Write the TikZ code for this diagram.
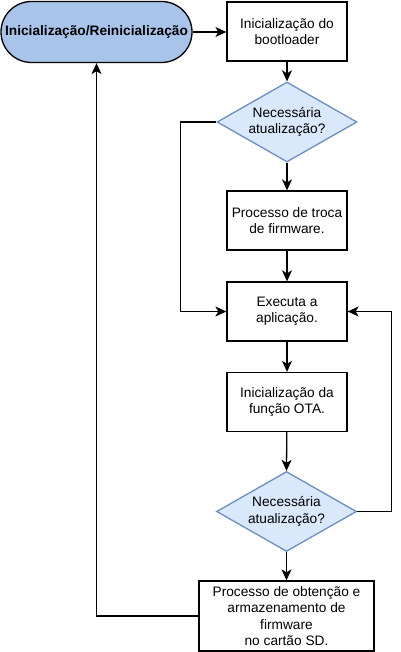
\documentclass[tikz,border=0pt]{standalone}
\usepackage{fontspec}
\setmainfont{Liberation Sans}
\usetikzlibrary{shapes.geometric,arrows.meta}
\definecolor{termfill}{HTML}{A9C4EB}
\definecolor{decfill}{HTML}{DAE8FC}
\definecolor{decdraw}{HTML}{6C8EBF}
\begin{document}
\begin{tikzpicture}[x=1pt,y=-1pt,
  every node/.style={font=\fontsize{13.7}{16.4}\selectfont, align=center, inner sep=0pt},
  proc/.style={draw=black, fill=white, line width=1.3pt, minimum width=120pt, minimum height=59pt},
  term/.style={draw=black, fill=termfill, line width=1.3pt, minimum width=191pt, minimum height=61pt, rounded corners=30.5pt, font=\fontsize{13.7}{16.4}\selectfont\bfseries},
  dec/.style={diamond, aspect=1.75, draw=decdraw, fill=decfill, line width=1.3pt, minimum width=140pt, minimum height=80pt},
  arr/.style={draw=black, line width=1.3pt, -{Stealth[length=11pt,width=10pt,inset=3pt]}}]
\useasboundingbox (0,0) rectangle (400,652);
\node[term] (t) at (96.5,32) {Inicialização/Reinicialização};
\node[proc] (b1) at (287,31.5) {Inicialização do\\bootloader};
\node[dec] (d1) at (287,122) {Necessária\\atualização?};
\node[proc] (b2) at (287,220.5) {Processo de troca\\de firmware.};
\node[proc] (b3) at (287,311.5) {Executa a\\aplicação.};
\node[proc] (b4) at (287,402) {Inicialização da\\função OTA.};
\node[dec] (d2) at (286.5,511.5) {Necessária\\atualização?};
\node[proc, minimum width=175pt, minimum height=70pt] (b5) at (286.5,616) {Processo de obtenção e\\armazenamento de\\firmware\\no cartão SD.};
\draw[arr] (t.east) -- (t.east -| b1.west);
\draw[arr] (b1) -- (d1);
\draw[arr] (d1) -- (b2);
\draw[arr] (b2) -- (b3);
\draw[arr] (b3) -- (b4);
\draw[arr] (b4) -- (d2.north);
\draw[arr] (d2.south) -- (d2.south |- b5.north);
\draw[arr] (d1.west) -- ++(-36,0) |- (b3.west);
\draw[arr] (d2.east) -- ++(34,0) |- (b3.east);
\draw[arr] (b5.west) -| (t.south);
\end{tikzpicture}
\end{document}
